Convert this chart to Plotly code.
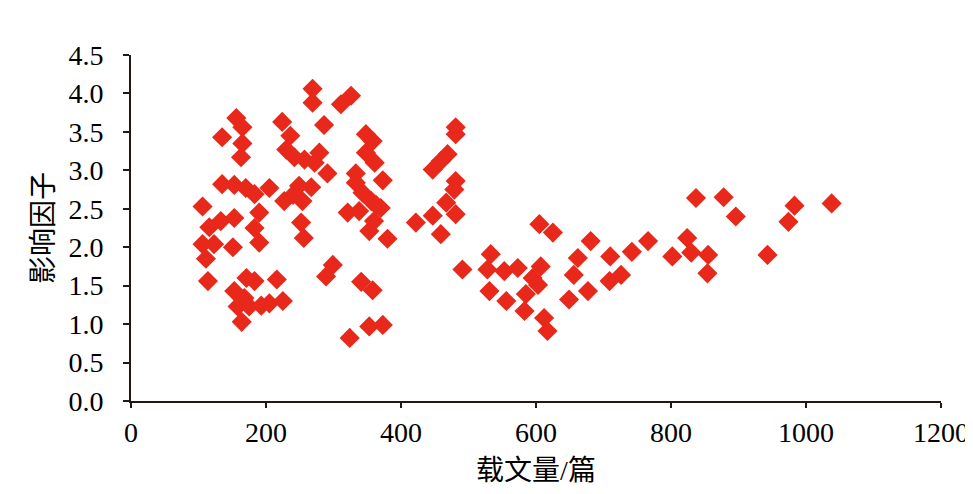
import plotly.graph_objects as go

# 载文量/篇 (x) and 影响因子 (y)
article_counts = [
    269, 269, 326, 311, 286, 224, 156, 165, 135, 165, 163, 236, 230, 242, 257, 279, 272, 291,
    348, 358, 348, 361, 373, 333, 333, 343, 356, 370, 321, 353, 380, 360, 338, 363,
    135, 153, 170, 183, 205, 190, 227, 249, 267, 254, 240, 106, 116, 133, 153, 183, 190, 252, 256,
    106, 123, 151, 111, 114, 171, 183, 216, 153, 168, 158, 175, 193, 205, 225, 164,
    299, 289, 341, 358, 353, 373, 324,
    481, 481, 469, 459, 447, 481, 479, 467, 481, 422, 447, 459, 605, 625,
    491, 533, 528, 553, 573, 607, 595, 603, 531, 556, 585, 583, 612, 617,
    649, 677, 662, 656, 681, 710, 726, 709, 742, 766,
    837, 878, 896, 824, 802, 830, 855, 854, 943, 983, 974, 1038,
]
impact_factors = [
    4.06, 3.88, 3.97, 3.86, 3.59, 3.63, 3.68, 3.56, 3.43, 3.35, 3.17, 3.45, 3.27, 3.17, 3.14, 3.23, 3.10, 2.96,
    3.47, 3.38, 3.23, 3.10, 2.87, 2.96, 2.84, 2.71, 2.60, 2.51, 2.45, 2.21, 2.11, 2.34, 2.47, 2.55,
    2.82, 2.81, 2.77, 2.69, 2.77, 2.45, 2.60, 2.80, 2.78, 2.60, 2.68, 2.53, 2.26, 2.34, 2.38, 2.25, 2.06, 2.32, 2.12,
    2.04, 2.04, 2.00, 1.85, 1.56, 1.60, 1.56, 1.58, 1.43, 1.34, 1.23, 1.23, 1.24, 1.27, 1.30, 1.03,
    1.77, 1.62, 1.55, 1.44, 0.97, 0.99, 0.82,
    3.56, 3.47, 3.21, 3.12, 3.01, 2.86, 2.75, 2.58, 2.43, 2.32, 2.41, 2.17, 2.30, 2.19,
    1.71, 1.91, 1.71, 1.69, 1.73, 1.75, 1.60, 1.51, 1.43, 1.30, 1.39, 1.17, 1.08, 0.91,
    1.32, 1.43, 1.86, 1.64, 2.08, 1.88, 1.64, 1.56, 1.94, 2.08,
    2.64, 2.65, 2.40, 2.12, 1.88, 1.93, 1.90, 1.66, 1.90, 2.54, 2.33, 2.57,
]

x_ticks = [0, 200, 400, 600, 800, 1000, 1200]
y_ticks = [0.0, 0.5, 1.0, 1.5, 2.0, 2.5, 3.0, 3.5, 4.0, 4.5]

FONT = "Liberation Serif, Times New Roman, Noto Sans CJK SC, serif"
AXIS_COLOR = "#231815"

fig = go.Figure(
    go.Scatter(
        x=article_counts,
        y=impact_factors,
        mode="markers",
        marker=dict(symbol="diamond", size=15.5, color="#E8281A", line=dict(width=0)),
        hoverinfo="x+y",
    )
)

fig.update_layout(
    width=973,
    height=494,
    margin=dict(l=123, r=40, t=47, b=101),
    paper_bgcolor="white",
    plot_bgcolor="white",
    showlegend=False,
    font=dict(family=FONT, size=28, color="black"),
)

fig.update_xaxes(
    range=[0, 1200],
    tickvals=x_ticks,
    ticktext=[str(v) for v in x_ticks],
    showgrid=False,
    zeroline=False,
    showline=True,
    linecolor=AXIS_COLOR,
    linewidth=2,
    ticks="outside",
    ticklen=5,
    tickwidth=1.5,
    tickcolor=AXIS_COLOR,
    automargin=False,
    tickfont=dict(family=FONT, size=28, color="black"),
    title=dict(text="载文量/篇", font=dict(family=FONT, size=28, color="black"), standoff=14),
)

fig.update_yaxes(
    range=[0, 4.5],
    tickvals=y_ticks,
    ticktext=[f"{v:.1f}" for v in y_ticks],
    showgrid=False,
    zeroline=False,
    showline=True,
    linecolor=AXIS_COLOR,
    linewidth=2,
    ticks="outside",
    ticklen=6,
    tickwidth=1.5,
    tickcolor=AXIS_COLOR,
    automargin=False,
    ticklabelstandoff=14,
    tickfont=dict(family=FONT, size=28, color="black"),
    title=dict(text="影响因子", font=dict(family=FONT, size=28, color="black"), standoff=7),
)

fig.write_html("out.html")
